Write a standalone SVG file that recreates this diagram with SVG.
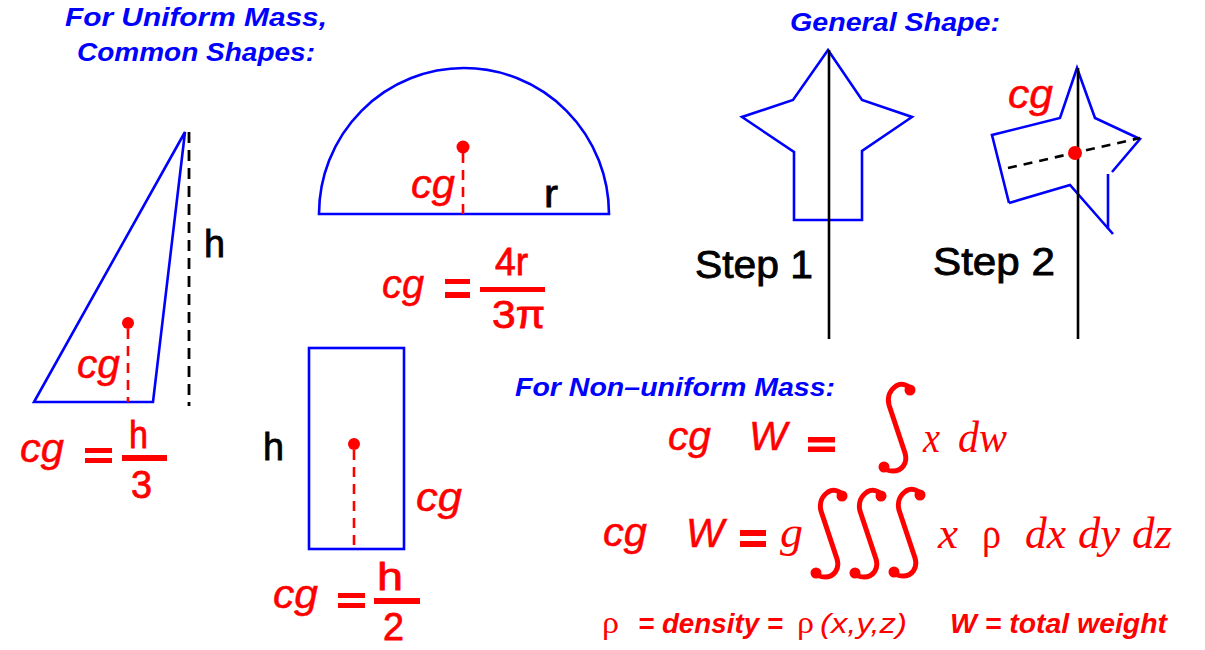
<svg xmlns="http://www.w3.org/2000/svg" width="1205" height="650" viewBox="0 0 1205 650">
<style>
.bl{fill:none;stroke:#0000ff;stroke-width:2.6;stroke-linejoin:miter}
.axis{stroke:#000;stroke-width:2.6}
.kd{stroke:#000;stroke-width:2.8;stroke-dasharray:11 7}
.kd2{stroke:#000;stroke-width:2.6;stroke-dasharray:9 7}
.rd{stroke:#ff0000;stroke-width:2.6;stroke-dasharray:10 7}
.dot{fill:#ff0000}
.ttl{font-family:"Liberation Sans",Arial,sans-serif;font-weight:bold;font-style:italic;fill:#0000ff;font-size:25px}
.cg{font-family:"Liberation Sans",Arial,sans-serif;font-style:italic;fill:#ff0000;stroke:#ff0000;stroke-width:0.5;font-size:40px}
.num{font-family:"Liberation Sans",Arial,sans-serif;fill:#ff0000;font-size:38px;stroke:#ff0000;stroke-width:0.8}
.blk{font-family:"Liberation Sans",Arial,sans-serif;fill:#000;font-size:38px;stroke:#000;stroke-width:0.8}
.ser{font-family:"Liberation Serif","Times New Roman",serif;font-style:italic;fill:#ff0000;font-size:44px}
.rho{font-family:"Liberation Serif","Times New Roman",serif;fill:#ff0000;font-size:44px}
.leg{font-family:"Liberation Sans",Arial,sans-serif;font-weight:bold;font-style:italic;fill:#ff0000;font-size:27px}
.eq{fill:#ff0000}
.int{fill:none;stroke:#ff0000;stroke-width:5;stroke-linecap:round;stroke-linejoin:round}
</style>
<defs>
<g id="integral" fill="#ff0000">
<path class="int" d="M 1,1 C -2,-5 -9,-6 -14,-3 C -20,1 -23,8 -21,16 L -5,64 C -2,74 -8,82 -17,82 C -22,82 -25,80 -26,78"/>
<circle cx="0" cy="1" r="5.5"/>
<circle cx="-26" cy="78" r="5.5"/>
</g>
</defs>

<g id="title-uniform">
<text class="ttl" x="65" y="26" textLength="262" lengthAdjust="spacingAndGlyphs">For Uniform Mass,</text>
<text class="ttl" x="77" y="61" textLength="238" lengthAdjust="spacingAndGlyphs">Common Shapes:</text>
</g>

<g id="triangle">
<polygon class="bl" points="185,132 34,402 153,402"/>
<line class="kd" x1="189" y1="132" x2="189" y2="406"/>
<text class="blk" x="204" y="257" textLength="21" lengthAdjust="spacingAndGlyphs">h</text>
<circle class="dot" cx="128" cy="323" r="6"/>
<line class="rd" x1="128" y1="329" x2="128" y2="402"/>
<text class="cg" x="77" y="378" textLength="43" lengthAdjust="spacingAndGlyphs">cg</text>
</g>

<g id="formula-triangle">
<text class="cg" x="20" y="462" textLength="44" lengthAdjust="spacingAndGlyphs">cg</text>
<rect class="eq" x="85" y="448" width="27" height="5"/>
<rect class="eq" x="85" y="458" width="27" height="5"/>
<rect class="eq" x="122" y="455" width="45" height="6"/>
<text class="num" x="129" y="448" textLength="19" lengthAdjust="spacingAndGlyphs">h</text>
<text class="num" x="131" y="498" textLength="21" lengthAdjust="spacingAndGlyphs">3</text>
</g>

<g id="semicircle">
<path class="bl" d="M 319,214 A 145,146 0 0 1 609,214 Z"/>
<circle class="dot" cx="463" cy="147" r="6.5"/>
<line class="rd" x1="463" y1="153" x2="463" y2="219"/>
<text class="cg" x="411" y="198" textLength="44" lengthAdjust="spacingAndGlyphs">cg</text>
<text class="blk" x="544" y="207" textLength="14" lengthAdjust="spacingAndGlyphs">r</text>
</g>

<g id="formula-semicircle">
<text class="cg" x="382" y="298" textLength="42" lengthAdjust="spacingAndGlyphs">cg</text>
<rect class="eq" x="445" y="279" width="25" height="5"/>
<rect class="eq" x="445" y="292" width="25" height="6"/>
<rect class="eq" x="480" y="287" width="65" height="5"/>
<text class="num" x="495" y="275" textLength="33" lengthAdjust="spacingAndGlyphs">4r</text>
<text class="num" x="492" y="328" textLength="53" lengthAdjust="spacingAndGlyphs">3π</text>
</g>

<g id="rectangle">
<rect class="bl" x="309" y="348" width="95" height="201"/>
<circle class="dot" cx="354" cy="444" r="6"/>
<line class="rd" x1="354" y1="450" x2="354" y2="549"/>
<text class="blk" x="263" y="460" textLength="21" lengthAdjust="spacingAndGlyphs">h</text>
<text class="cg" x="416" y="511" textLength="46" lengthAdjust="spacingAndGlyphs">cg</text>
</g>

<g id="formula-rectangle">
<text class="cg" x="273" y="608" textLength="45" lengthAdjust="spacingAndGlyphs">cg</text>
<rect class="eq" x="338" y="593" width="27" height="5"/>
<rect class="eq" x="338" y="603" width="27" height="5"/>
<rect class="eq" x="374" y="598" width="46" height="6"/>
<text class="num" x="377" y="590" textLength="26" lengthAdjust="spacingAndGlyphs">h</text>
<text class="num" x="383" y="640" textLength="21" lengthAdjust="spacingAndGlyphs">2</text>
</g>

<g id="title-general">
<text class="ttl" x="790" y="31" textLength="210" lengthAdjust="spacingAndGlyphs">General  Shape:</text>
</g>

<g id="star-step1">
<polygon class="bl" points="828,50 862,100 912,117 862,151 862,220 794,220 794,152 742,117 793,100"/>
<line class="axis" x1="829" y1="50" x2="829" y2="339"/>
<text class="blk" x="695" y="278" textLength="118" lengthAdjust="spacingAndGlyphs">Step 1</text>
</g>

<g id="star-step2">
<polyline class="bl" points="1009,203 992,135 1060,118 1077,68 1095,118 1140,139 1112,172"/>
<line class="bl" x1="1108" y1="174" x2="1108" y2="229"/>
<polyline class="bl" points="1009,203 1070,185 1113,234"/>
<line class="axis" x1="1078" y1="68" x2="1078" y2="339"/>
<line class="kd2" x1="1008" y1="168" x2="1140" y2="138"/>
<circle class="dot" cx="1075" cy="153" r="7"/>
<text class="cg" x="1008" y="108" textLength="45" lengthAdjust="spacingAndGlyphs">cg</text>
<text class="blk" x="933" y="275" textLength="122" lengthAdjust="spacingAndGlyphs">Step 2</text>
</g>

<g id="title-nonuniform">
<text class="ttl" x="515" y="396" textLength="320" lengthAdjust="spacingAndGlyphs">For Non–uniform Mass:</text>
</g>

<g id="formula1">
<text class="cg" x="668" y="450" textLength="43" lengthAdjust="spacingAndGlyphs">cg</text>
<text class="cg" x="749" y="450" textLength="38" lengthAdjust="spacingAndGlyphs">W</text>
<rect class="eq" x="808" y="437" width="27" height="5.5"/>
<rect class="eq" x="808" y="446.5" width="27" height="5.5"/>
<use href="#integral" transform="translate(910,389)"/>
<text class="ser" x="923" y="452" textLength="17" lengthAdjust="spacingAndGlyphs">x</text>
<text class="ser" x="958" y="452" textLength="49" lengthAdjust="spacingAndGlyphs">dw</text>
</g>

<g id="formula2">
<text class="cg" x="603" y="546" textLength="44" lengthAdjust="spacingAndGlyphs">cg</text>
<text class="cg" x="686" y="547" textLength="38" lengthAdjust="spacingAndGlyphs">W</text>
<rect class="eq" x="740" y="530" width="26" height="6"/>
<rect class="eq" x="740" y="541" width="26" height="6"/>
<text class="ser" x="780" y="547" textLength="23" lengthAdjust="spacingAndGlyphs">g</text>
<use href="#integral" transform="translate(842,495)"/>
<use href="#integral" transform="translate(881,495)"/>
<use href="#integral" transform="translate(920,494)"/>
<text class="ser" x="938" y="548" textLength="20" lengthAdjust="spacingAndGlyphs">x</text>
<text class="rho" x="982" y="548" textLength="19" lengthAdjust="spacingAndGlyphs">ρ</text>
<text class="ser" x="1025" y="548" textLength="41" lengthAdjust="spacingAndGlyphs">dx</text>
<text class="ser" x="1078" y="548" textLength="42" lengthAdjust="spacingAndGlyphs">dy</text>
<text class="ser" x="1132" y="548" textLength="40" lengthAdjust="spacingAndGlyphs">dz</text>
</g>

<g id="legend">
<text class="rho" style="font-size:32px" x="602" y="633" textLength="17" lengthAdjust="spacingAndGlyphs">ρ</text>
<text class="leg" x="638" y="633" textLength="145" lengthAdjust="spacingAndGlyphs">= density =</text>
<text class="rho" style="font-size:32px" x="797" y="633" textLength="17" lengthAdjust="spacingAndGlyphs">ρ</text>
<text class="leg" style="font-weight:normal" x="820" y="633" textLength="87" lengthAdjust="spacingAndGlyphs">(x,y,z)</text>
<text class="leg" x="950" y="633" textLength="217" lengthAdjust="spacingAndGlyphs">W = total weight</text>
</g>
</svg>
